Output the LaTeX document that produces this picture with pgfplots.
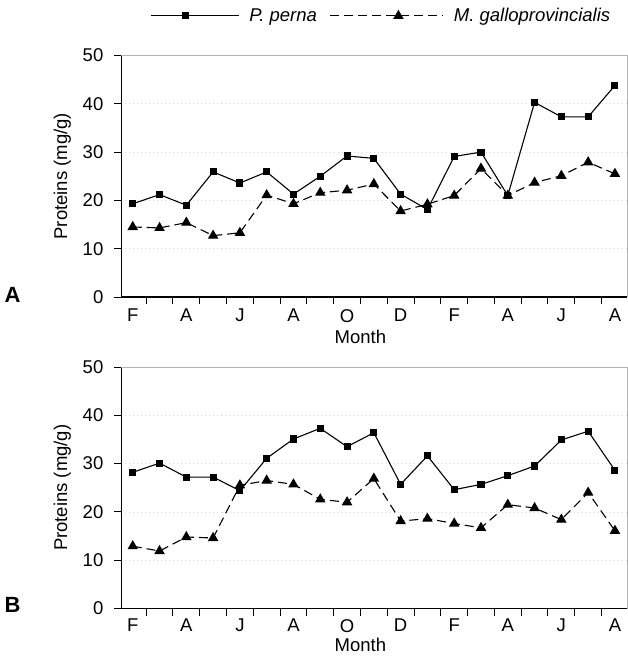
\documentclass[border=0pt]{standalone}
\usepackage{fontspec}
\setmainfont{Liberation Sans}
\usepackage{pgfplots}
\pgfplotsset{compat=1.18}
\pgfplotstableread{
x  ppA  mgA  ppB  mgB
0  19.3 14.5 28.2 12.9
1  21.2 14.3 30.1 11.9
2  19.0 15.4 27.2 14.8
3  25.9 12.7 27.2 14.6
4  23.6 13.3 24.4 25.5
5  25.9 21.1 31.1 26.5
6  21.3 19.3 35.1 25.7
7  25.0 21.6 37.3 22.6
8  29.2 22.1 33.5 22.0
9  28.7 23.4 36.4 26.9
10 21.3 17.8 25.7 18.1
11 18.1 19.2 31.6 18.6
12 29.1 21.0 24.6 17.6
13 30.0 26.6 25.7 16.7
14 21.0 21.0 27.5 21.5
15 40.3 23.7 29.5 20.8
16 37.3 25.1 34.9 18.4
17 37.3 27.9 36.7 24.0
18 43.8 25.5 28.6 16.1
}\datatable
\pgfplotsset{
  panel/.style={
    scale only axis, width=505.5pt, height=241.5pt,
    xmin=-0.42, xmax=18.45, ymin=0, ymax=50,
    axis x line*=bottom, axis y line*=left,
    axis line style={line width=1.2pt},
    tick align=outside,
    xtick={0,2,...,18}, xticklabels={F,A,J,A,O,D,F,A,J,A},
    minor xtick={-0.5,0.5,...,18.5},
    major x tick style={draw=none},
    minor x tick style={line width=1pt, black},
    minor tick length=7pt,
    major tick length=7pt,
    ytick={0,10,...,50},
    ytick style={line width=1pt, black},
    /pgf/number format/assume math mode=true,
    tick label style={font=\fontsize{18.5}{22}\selectfont},
    yticklabel style={anchor=east, inner sep=0pt, xshift=-11pt},
    xlabel={Month},
    ylabel={Proteins (mg/g)},
    every axis y label/.style={at={(axis description cs:-0.117,0.5)}, anchor=center, rotate=90, inner sep=0pt, font=\fontsize{18.5}{22}\selectfont},
    ymajorgrids, major grid style={gray!30, line width=0.8pt, dash pattern=on 1pt off 3pt},
    clip=false,
  },
  pp/.style={black, line width=1.1pt, solid, mark=square*, mark size=3pt, mark options={solid}},
  mg/.style={black, line width=1.1pt, dash pattern=on 9pt off 5pt, mark=triangle*, mark size=5pt, mark options={solid}},
  ppleg/.style={legend image code/.code={\draw[##1,mark repeat=2,mark phase=2] plot coordinates {(0pt,0pt) (35pt,0pt) (88pt,0pt)}; \path (98pt,0pt);}},
  mgleg/.style={legend image code/.code={\path (-13pt,0pt); \draw[##1,mark repeat=2,mark phase=2] plot coordinates {(0pt,0pt) (68pt,0pt) (113pt,0pt)}; \path (123pt,0pt);}},
}
\begin{document}
\begin{tikzpicture}
\path[use as bounding box] (-121.5pt,-359pt) rectangle (506.5pt,297pt);
\begin{axis}[panel, at={(0pt,0pt)}, anchor=south west,
  xticklabel style={anchor=north, inner sep=0pt, yshift=-5pt},
  every axis x label/.style={at={(axis description cs:0.4725,0)}, anchor=north, inner sep=0pt, yshift=-33pt, font=\fontsize{18.5}{22}\selectfont},
  legend style={at={(axis description cs:0.0564,1.164)}, anchor=west, draw=none, fill=none,
    legend columns=2, inner sep=0pt, column sep=0pt, row sep=0pt,
    nodes={inner sep=0pt, font=\itshape\fontsize{18.5}{22}\selectfont}},
  legend cell align=left]
\addplot[pp, ppleg] table[x=x,y=ppA] {\datatable};
\addlegendentry{P. perna}
\addplot[mg, mgleg] table[x=x,y=mgA] {\datatable};
\addlegendentry{M. galloprovincialis}
\draw[line width=0.6pt, gray!60] (rel axis cs:0,1) -- (rel axis cs:1,1) -- (rel axis cs:1,0);
\node[anchor=base west, inner sep=0pt, font=\bfseries\fontsize{22}{26}\selectfont] at (rel axis cs:-0.2315,-0.0207) {A};
\end{axis}
\begin{axis}[panel, at={(0pt,-311.5pt)}, anchor=south west,
  xticklabel style={anchor=north, inner sep=0pt, yshift=-3.5pt},
  every axis x label/.style={at={(axis description cs:0.4725,0)}, anchor=north, inner sep=0pt, yshift=-29pt, font=\fontsize{18.5}{22}\selectfont}]
\addplot[pp] table[x=x,y=ppB] {\datatable};
\addplot[mg] table[x=x,y=mgB] {\datatable};
\draw[line width=0.6pt, gray!60] (rel axis cs:0,1) -- (rel axis cs:1,1) -- (rel axis cs:1,0);
\node[anchor=base west, inner sep=0pt, font=\bfseries\fontsize{22}{26}\selectfont] at (rel axis cs:-0.2315,-0.0145) {B};
\end{axis}
\end{tikzpicture}
\end{document}
